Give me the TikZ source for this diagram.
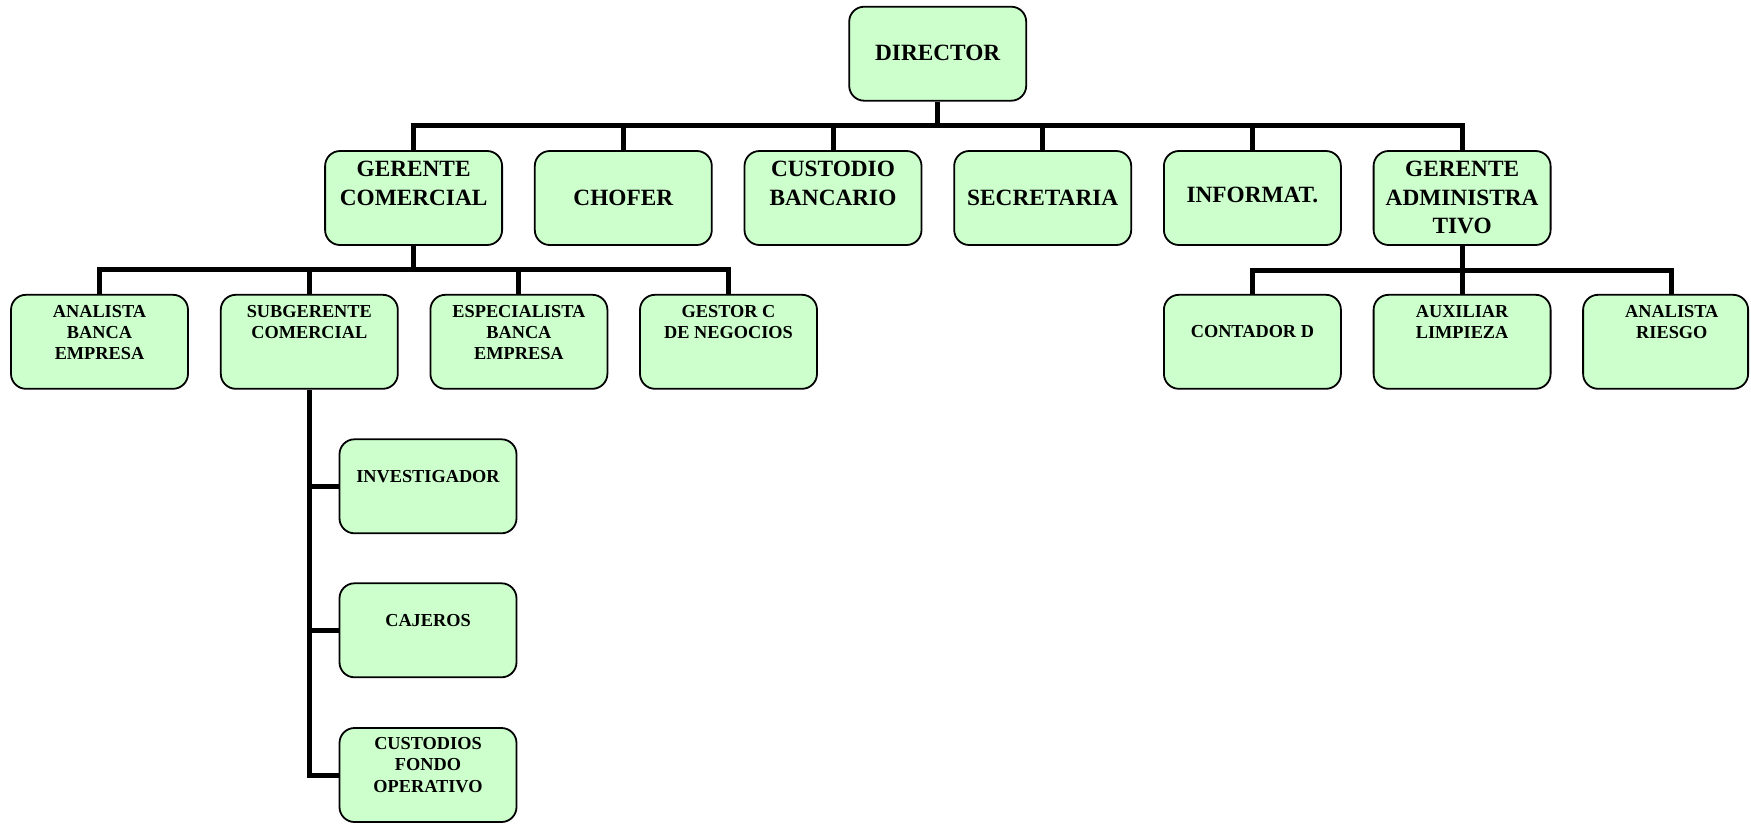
\documentclass[tikz,border=0pt]{standalone}
\usepackage{fontspec}
\setmainfont{Liberation Serif}
\definecolor{boxgreen}{HTML}{CCFFCC}
\newcommand\orgH{\rule{0pt}{20pt}}
\newcommand\orgh{\rule{0pt}{16pt}}
\begin{document}
\begin{tikzpicture}[x=1pt,y=-1pt,
  box/.style={draw=black, line width=1.8pt, fill=boxgreen, rounded corners=15pt, rectangle, inner sep=0pt, minimum width=177pt, minimum height=94pt},
  conn/.style={line width=5pt, line join=miter, line cap=butt, draw=black},
  big/.style={font=\fontsize{23.3}{28.3}\selectfont\bfseries, align=center, inner sep=0pt, anchor=north},
  small/.style={font=\fontsize{18.3}{21.3}\selectfont\bfseries, align=center, inner sep=0pt, anchor=north}]
\useasboundingbox (0,0) rectangle (1751,823);
% boxes
\node[box] (dir) at (937.7,53.7) {};
\node[box] (gc) at (413.6,198) {};
\node[box] (ch) at (623.3,198) {};
\node[box] (cu) at (833.0,198) {};
\node[box] (se) at (1042.7,198) {};
\node[box] (inf) at (1252.4,198) {};
\node[box] (ga) at (1462.1,198) {};
\node[box] (anb) at (99.5,341.8) {};
\node[box] (sub) at (309.3,341.8) {};
\node[box] (esp) at (518.9,341.8) {};
\node[box] (ges) at (728.5,341.8) {};
\node[box] (con) at (1252.4,341.8) {};
\node[box] (aux) at (1462.1,341.8) {};
\node[box, minimum width=165pt] (rie) at (1665.6,341.8) {};
\node[box] (inv) at (428,486.3) {};
\node[box] (caj) at (428,630.3) {};
\node[box] (cus) at (428,775) {};
% labels
\node[big] (tdir) at (937.7,40.7) {\orgH DIRECTOR};
\node[big] (tgc) at (413.6,156.7) {\orgH GERENTE\\COMERCIAL};
\node[big] (tch) at (623.3,185) {\orgH CHOFER};
\node[big] (tcu) at (833.0,156.7) {\orgH CUSTODIO\\BANCARIO};
\node[big] (tse) at (1042.7,185) {\orgH SECRETARIA};
\node[big] (tinf) at (1252.4,182) {\orgH INFORMAT.};
\node[big] (tga) at (1462.1,156.7) {\orgH GERENTE\\ADMINISTRA\\TIVO};
\node[small] (tanb) at (99.5,300.9) {\orgh ANALISTA\\BANCA\\EMPRESA};
\node[small] (tsub) at (309.3,300.9) {\orgh SUBGERENTE\\COMERCIAL};
\node[small] (tesp) at (518.9,300.9) {\orgh ESPECIALISTA\\BANCA\\EMPRESA};
\node[small] (tges) at (728.5,300.9) {\orgh GESTOR C\\DE NEGOCIOS};
\node[small] (tcon) at (1252.4,321.5) {\orgh CONTADOR D};
\node[small] (taux) at (1462.1,300.9) {\orgh AUXILIAR\\LIMPIEZA};
\node[small] (trie) at (1671.8,300.9) {\orgh ANALISTA\\RIESGO};
\node[small] (tinv) at (428,466.3) {\orgh INVESTIGADOR};
\node[small] (tcaj) at (428,610.3) {\orgh CAJEROS};
\node[small] (tcus) at (428,733.3) {\orgh CUSTODIOS\\FONDO\\OPERATIVO};
% bus coordinates
\coordinate (bus1) at (937.7,125.8);
\coordinate (bus2l) at (413.6,269.8);
\coordinate (bus2r) at (1462.1,270.3);
\coordinate (rietop) at (1671.8,293.5);
% connectors
\draw[conn] (dir.south) -- (dir.south |- bus1);
\draw[conn] (gc.north) |- (ga.north |- bus1) -- (ga.north);
\foreach \n in {ch,cu,se,inf} \draw[conn] (\n.north) -- (\n.north |- bus1);
\draw[conn] (gc.south) -- (gc.south |- bus2l);
\draw[conn] (anb.north) |- (ges.north |- bus2l) -- (ges.north);
\foreach \n in {sub,esp} \draw[conn] (\n.north) -- (\n.north |- bus2l);
\draw[conn] (ga.south) -- (ga.south |- bus2r);
\draw[conn] (con.north) |- (rietop |- bus2r) -- (rietop);
\draw[conn] (aux.north) -- (aux.north |- bus2r);
\draw[conn] (sub.south) |- (cus.west);
\draw[conn] (sub.south |- inv.west) -- (inv.west);
\draw[conn] (sub.south |- caj.west) -- (caj.west);
\end{tikzpicture}
\end{document}
